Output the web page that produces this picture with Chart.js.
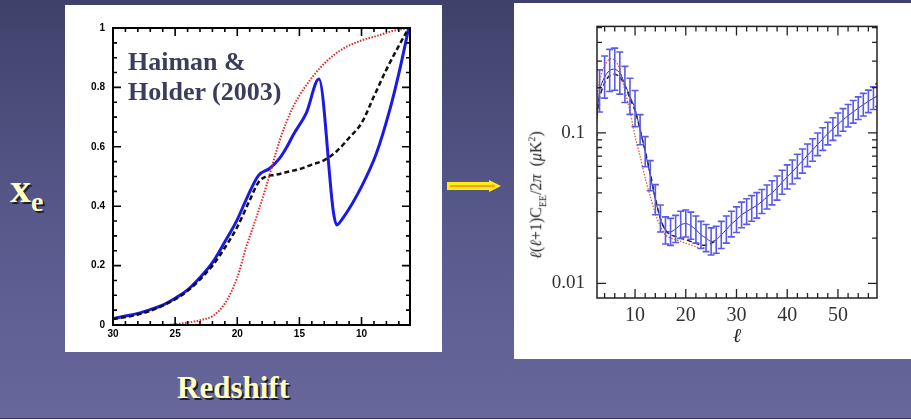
<!DOCTYPE html>
<html>
<head>
<meta charset="utf-8">
<script src="https://cdn.jsdelivr.net/npm/chart.js@4.4.1/dist/chart.umd.min.js"></script>
<style>
  html, body { margin: 0; padding: 0; }
  body {
    width: 911px; height: 419px; overflow: hidden; position: relative;
    background: linear-gradient(to bottom, #40416a 0%, #57588a 50%, #67679c 100%);
    font-family: "Liberation Serif", serif;
  }
  .panel { position: absolute; background: #fff; }
  .panel canvas { position: absolute; left: 0; top: 0; }
  .slideText {
    position: absolute; color: #ffffc4; font-weight: bold; line-height: 1;
    text-shadow: 2px 2px 0 #1e1e2a;
  }
  #haiman {
    position: absolute; left: 63px; top: 42px; color: #3b3d5c;
    font: bold 26px "Liberation Serif", serif; line-height: 30px; white-space: nowrap;
  }
  #ylab2 {
    position: absolute; left: 23px; top: 192px; width: 0; height: 0;
  }
  #ylab2 span {
    position: absolute; transform: translate(-50%, -50%) rotate(-90deg);
    white-space: nowrap; font: 16px "Liberation Serif", serif; color: #222;
  }
  #bottomLine { position: absolute; left: 0; top: 418px; width: 911px; height: 1px; background: #35354f; }
</style>
</head>
<body>
<div class="slideText" style="left:10px; top:167px; font-size:42px;">x<span style="font-size:28px; position:relative; top:9px;">e</span></div>
<div class="slideText" style="left:177px; top:372px; font-size:31px;">Redshift</div>

<svg style="position:absolute; left:445px; top:178px;" width="58" height="16">
  <polygon points="2,4 44,4 44,2 56,8 44,14 44,12 2,12" fill="#ffee10"/>
  <polygon points="5,7 47,7 47,6 51,8 47,10 47,9 5,9" fill="#f8a020"/>
</svg>

<div class="panel" style="left:65px; top:5px; width:377px; height:347px;">
  <canvas id="xeChart" width="377" height="347"></canvas>
  <div id="haiman">Haiman &amp;<br>Holder (2003)</div>
</div>

<div class="panel" style="left:514px; top:3px; width:397px; height:356px;">
  <canvas id="eeChart" width="397" height="356"></canvas>
  <div id="ylab2"><span><i>ℓ</i>(<i>ℓ</i>+1)C<sub style="font-size:10px">EE</sub>/2<i>π</i>&nbsp;&nbsp;(<i>μ</i>K<sup style="font-size:10px">2</sup>)</span></div>
</div>
<div id="bottomLine"></div>

<script>
// ---- left panel: ionization fraction vs redshift ----
let zBlue  = [30, 29, 28, 27, 26, 25, 24, 23, 22, 21, 20, 19.2, 18.3, 17.4, 16.6, 16.0, 15.5, 14.45, 13.43, 12.25, 12.0, 11.5, 10.0, 8.8, 7.73, 6.93, 6.2];
let xeBlue = [0.022, 0.03, 0.039, 0.052, 0.067, 0.09, 0.118, 0.16, 0.21, 0.28, 0.355, 0.43, 0.503, 0.527, 0.561, 0.60, 0.64, 0.713, 0.828, 0.376, 0.337, 0.36, 0.466, 0.578, 0.724, 0.859, 1.0];

let zBlack  = [30, 28, 26, 24, 22, 21, 20, 19, 18.3, 17.7, 17, 16, 15, 14, 13, 12, 11, 10, 9, 8, 7, 6.2];
let xeBlack = [0.02, 0.035, 0.065, 0.115, 0.2, 0.26, 0.33, 0.42, 0.48, 0.5, 0.505, 0.515, 0.525, 0.54, 0.555, 0.585, 0.63, 0.68, 0.77, 0.86, 0.94, 1.0];

let zRed  = [30, 26, 24, 23, 22, 21, 20, 19.26, 18.4, 17.65, 16.57, 15.5, 14.4, 13.37, 12.2, 11.2, 10, 8.56, 7.5, 6.2];
let xeRed = [0.0, 0.0, 0.008, 0.016, 0.03, 0.072, 0.16, 0.265, 0.37, 0.47, 0.623, 0.735, 0.81, 0.864, 0.91, 0.937, 0.958, 0.976, 0.99, 1.0];

let zTicks  = [30, 25, 20, 15, 10];
let xeTicks = [0, 0.2, 0.4, 0.6, 0.8, 1];

// ---- right panel: EE polarization spectrum ----
let ells = [2, 3, 4, 5, 6, 7, 8, 9, 10, 11, 12, 13, 14, 15, 16, 17, 18, 19, 20, 21, 22, 23, 24, 25, 26, 27, 28, 29, 30,
            31, 32, 33, 34, 35, 36, 37, 38, 39, 40, 41, 42, 43, 44, 45, 46, 47, 48, 49, 50, 51, 52, 53, 54, 55, 56, 57, 58];
let eeBlue = [0.07, 0.19, 0.235, 0.26, 0.265, 0.25, 0.21, 0.175, 0.145, 0.105, 0.075, 0.052, 0.036, 0.027, 0.0225, 0.022, 0.023, 0.0245, 0.025, 0.0242, 0.0228, 0.021, 0.02, 0.019, 0.0195, 0.021, 0.0228, 0.0248, 0.0265,
              0.0285, 0.030, 0.0315, 0.033, 0.035, 0.0375, 0.040, 0.043, 0.047, 0.051, 0.055, 0.060, 0.065, 0.071, 0.077, 0.084, 0.091, 0.099, 0.106, 0.114, 0.122, 0.130, 0.138, 0.146, 0.154, 0.162, 0.170, 0.178];
// half-length of each error bar, in decades
let eeErrDex = [0.14, 0.14, 0.14, 0.14, 0.14, 0.14, 0.12, 0.12, 0.12, 0.1, 0.1, 0.1, 0.1, 0.09, 0.09, 0.09, 0.09, 0.09, 0.09, 0.09, 0.09, 0.09, 0.09, 0.09, 0.09, 0.09, 0.09, 0.085, 0.085,
                0.085, 0.085, 0.085, 0.085, 0.08, 0.08, 0.08, 0.08, 0.08, 0.08, 0.08, 0.08, 0.08, 0.075, 0.075, 0.075, 0.075, 0.075, 0.075, 0.075, 0.075, 0.075, 0.075, 0.075, 0.075, 0.075, 0.075, 0.075];

let ellsBlack = [2, 3, 4, 5, 6, 7, 8, 9, 10, 11, 12, 13, 14, 15, 16, 17, 18, 19, 20, 21, 22, 23, 24, 25, 26];
let eeBlack   = [0.1, 0.17, 0.215, 0.24, 0.245, 0.235, 0.205, 0.17, 0.14, 0.105, 0.076, 0.054, 0.037, 0.027, 0.0225, 0.021, 0.0205, 0.02, 0.0195, 0.019, 0.0185, 0.018, 0.018, 0.0185, 0.0192];

let ellsRed = [2, 3, 4, 5, 6, 7, 8, 9, 10, 11, 12, 13, 14, 15, 16, 17, 18, 19, 20, 21, 22, 23, 24];
let eeRed   = [0.13, 0.22, 0.28, 0.31, 0.305, 0.265, 0.19, 0.14, 0.095, 0.07, 0.05, 0.038, 0.029, 0.024, 0.021, 0.02, 0.0195, 0.019, 0.0185, 0.018, 0.0175, 0.0172, 0.0175];

let ellTicks = [10, 20, 30, 40, 50];
let eeTicks  = [0.01, 0.1];

function pts(xs, ys) {
    return xs.map((x, i) => ({ x: x, y: ys[i] }));
}

function range(a, b, step) {
    let out = [];
    for (let v = a; v <= b + 1e-9; v += step) out.push(+v.toFixed(4));
    return out;
}

// frame around the plot with inward tick marks on every side
const frameTicks = {
    id: 'frameTicks',
    afterDraw(chart, args, opts) {
        let ctx = chart.ctx, a = chart.chartArea, sx = chart.scales.x, sy = chart.scales.y;
        ctx.save();
        ctx.strokeStyle = opts.color;
        ctx.lineWidth = opts.width;
        ctx.strokeRect(a.left, a.top, a.right - a.left, a.bottom - a.top);
        ctx.lineWidth = opts.tickWidth;
        ctx.beginPath();
        let drawX = (vals, len) => vals.forEach(v => {
            let p = sx.getPixelForValue(v);
            if (p < a.left - 0.5 || p > a.right + 0.5) return;
            ctx.moveTo(p, a.bottom); ctx.lineTo(p, a.bottom - len);
            ctx.moveTo(p, a.top); ctx.lineTo(p, a.top + len);
        });
        let drawY = (vals, len) => vals.forEach(v => {
            let p = sy.getPixelForValue(v);
            if (p < a.top - 0.5 || p > a.bottom + 0.5) return;
            ctx.moveTo(a.left, p); ctx.lineTo(a.left + len, p);
            ctx.moveTo(a.right, p); ctx.lineTo(a.right - len, p);
        });
        drawX(opts.xMajor, opts.major); drawX(opts.xMinor, opts.minor);
        drawY(opts.yMajor, opts.major); drawY(opts.yMinor, opts.minor);
        ctx.stroke();
        ctx.restore();
    }
};

// vertical error bars with caps for the first dataset
const errorBars = {
    id: 'errorBars',
    afterDatasetsDraw(chart, args, opts) {
        if (!opts.values) return;
        let ctx = chart.ctx, a = chart.chartArea, sx = chart.scales.x, sy = chart.scales.y;
        ctx.save();
        ctx.beginPath();
        ctx.rect(a.left, a.top, a.right - a.left, a.bottom - a.top);
        ctx.clip();
        ctx.strokeStyle = opts.color;
        ctx.lineWidth = 1.6;
        ctx.beginPath();
        opts.xs.forEach((x, i) => {
            let v = opts.values[i], e = opts.err[i];
            let px = sx.getPixelForValue(x);
            let top = sy.getPixelForValue(v * Math.pow(10, e));
            let bot = sy.getPixelForValue(v / Math.pow(10, e));
            ctx.moveTo(px, top); ctx.lineTo(px, bot);
            ctx.moveTo(px - 3.5, top); ctx.lineTo(px + 3.5, top);
            ctx.moveTo(px - 3.5, bot); ctx.lineTo(px + 3.5, bot);
        });
        ctx.stroke();
        ctx.restore();
    }
};

Chart.register(frameTicks, errorBars);

let xeCtx = document.getElementById('xeChart').getContext('2d');
let xeChart = new Chart(xeCtx, {
    type: 'line',
    data: {
        datasets: [
            { data: pts(zRed, xeRed), borderColor: '#e02828', borderWidth: 2, borderDash: [1.5, 1.5], pointRadius: 0, cubicInterpolationMode: 'monotone' },
            { data: pts(zBlack, xeBlack), borderColor: '#111111', borderWidth: 2.5, borderDash: [5, 3], pointRadius: 0, cubicInterpolationMode: 'monotone' },
            { data: pts(zBlue, xeBlue), borderColor: '#1a1ae6', borderWidth: 3, pointRadius: 0, cubicInterpolationMode: 'monotone' }
        ]
    },
    options: {
        responsive: false,
        animation: false,
        layout: { padding: { top: 23, right: 32, left: 0, bottom: 0 } },
        plugins: {
            legend: { display: false },
            tooltip: { enabled: false },
            frameTicks: {
                color: '#000', width: 2, tickWidth: 1.6, major: 8, minor: 4,
                xMajor: zTicks, xMinor: range(7, 29, 1),
                yMajor: xeTicks, yMinor: range(0.05, 0.95, 0.05)
            }
        },
        scales: {
            x: {
                type: 'linear', reverse: true, min: 6.1, max: 30,
                grid: { display: false, drawTicks: false }, border: { display: false },
                afterBuildTicks: s => { s.ticks = zTicks.map(v => ({ value: v })); },
                afterFit: s => { s.height = 27; },
                ticks: { color: '#000', padding: 3, font: { family: 'Liberation Sans', weight: 'bold', size: 10 }, maxRotation: 0 }
            },
            y: {
                type: 'linear', min: 0, max: 1,
                grid: { display: false, drawTicks: false }, border: { display: false },
                afterBuildTicks: s => { s.ticks = xeTicks.map(v => ({ value: v })); },
                afterFit: s => { s.width = 48; },
                ticks: { color: '#000', padding: 8, font: { family: 'Liberation Sans', weight: 'bold', size: 10 }, callback: v => String(v) }
            }
        }
    }
});

let eeCtx = document.getElementById('eeChart').getContext('2d');
let eeChart = new Chart(eeCtx, {
    type: 'line',
    data: {
        datasets: [
            { data: pts(ells, eeBlue), borderColor: '#2828a8', borderWidth: 1, pointRadius: 0, tension: 0.3 },
            { data: pts(ellsRed, eeRed), borderColor: '#e0603a', borderWidth: 1.3, borderDash: [1.5, 1.5], pointRadius: 0, tension: 0.3 },
            { data: pts(ellsBlack, eeBlack), borderColor: '#202030', borderWidth: 1.5, borderDash: [5, 3], pointRadius: 0, tension: 0.3 }
        ]
    },
    options: {
        responsive: false,
        animation: false,
        layout: { padding: { top: 17, right: 34, left: 0, bottom: 0 } },
        plugins: {
            legend: { display: false },
            tooltip: { enabled: false },
            errorBars: { xs: ells, values: eeBlue, err: eeErrDex, color: '#5a5ae6' },
            frameTicks: {
                color: '#222', width: 1.5, tickWidth: 1.3, major: 9, minor: 5,
                xMajor: ellTicks, xMinor: range(4, 56, 2),
                yMajor: eeTicks, yMinor: [0.02, 0.03, 0.04, 0.05, 0.06, 0.07, 0.08, 0.09, 0.2, 0.3, 0.4, 0.5]
            }
        },
        scales: {
            x: {
                type: 'linear', min: 2.5, max: 57.7,
                grid: { display: false, drawTicks: false }, border: { display: false },
                afterBuildTicks: s => { s.ticks = ellTicks.map(v => ({ value: v })); },
                afterFit: s => { s.height = 61; },
                title: { display: true, text: 'ℓ', color: '#222', padding: { top: 0, bottom: 10 }, font: { family: 'Liberation Serif', style: 'italic', size: 20 } },
                ticks: { color: '#333', padding: 6, font: { family: 'Liberation Serif', size: 20 }, maxRotation: 0 }
            },
            y: {
                type: 'logarithmic', min: 0.008, max: 0.51,
                grid: { display: false, drawTicks: false }, border: { display: false },
                afterBuildTicks: s => { s.ticks = eeTicks.map(v => ({ value: v })); },
                afterFit: s => { s.width = 83; },
                ticks: { color: '#333', padding: 12, font: { family: 'Liberation Serif', size: 19 }, callback: v => String(v) }
            }
        }
    }
});
</script>
</body>
</html>
